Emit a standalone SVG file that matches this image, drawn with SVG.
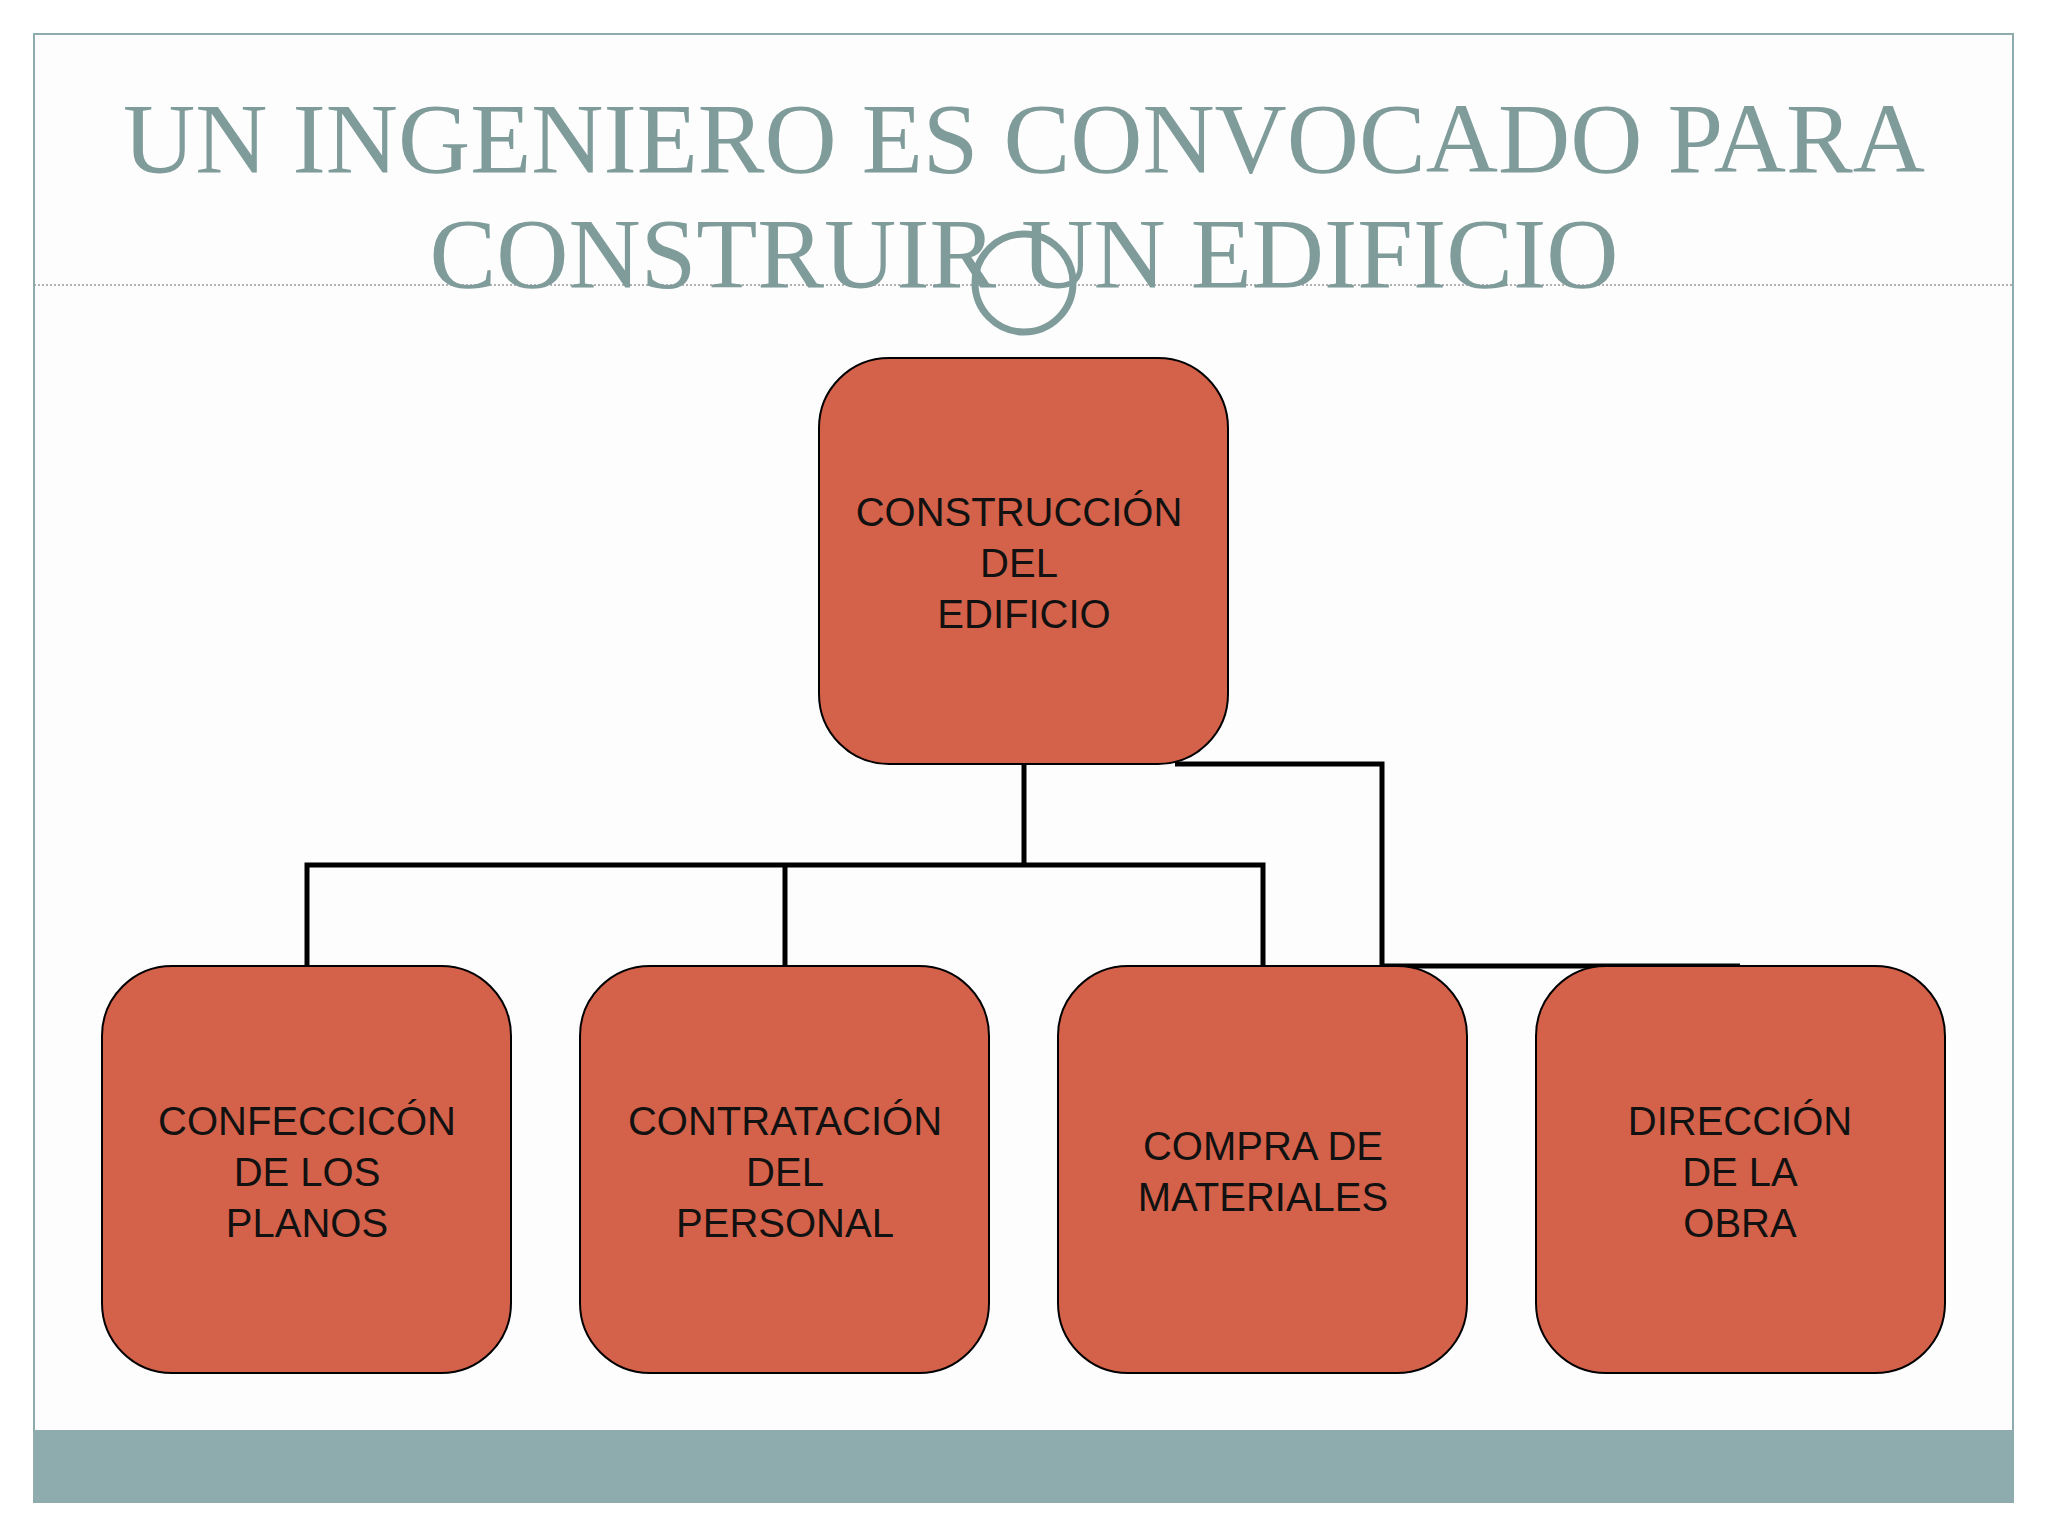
<svg xmlns="http://www.w3.org/2000/svg" width="2048" height="1536" viewBox="0 0 2048 1536">
<style>
.box{fill:#d4624a;stroke:#000;stroke-width:2}
.t{font-family:"Liberation Sans",Arial,sans-serif;font-size:40px;fill:#111;text-anchor:middle}
.title{font-family:"Liberation Serif","Times New Roman",serif;font-size:100px;fill:#7f9c9b;text-anchor:middle}
.c{fill:none;stroke:#000;stroke-width:5}
</style>
<rect width="2048" height="1536" fill="#fff"/>
<rect x="34" y="34" width="1979" height="1468" fill="#fdfdfd" stroke="#8eacad" stroke-width="2"/>
<rect x="34" y="1430" width="1979" height="72" fill="#8eacad"/>
<line x1="34" y1="285" x2="2013" y2="285" stroke="#999" stroke-width="1.5" stroke-dasharray="2,2"/>
<text class="title" x="1024" y="172">UN INGENIERO ES CONVOCADO PARA</text>
<text class="title" x="1024" y="287">CONSTRUIR UN EDIFICIO</text>
<circle cx="1024" cy="283" r="49" fill="none" stroke="#7f9c9b" stroke-width="7"/>
<g id="connectors">
<polyline class="c" points="1024,764 1024,865"/>
<polyline class="c" points="307,966 307,865 1263,865 1263,966"/>
<polyline class="c" points="785,865 785,966"/>
<polyline class="c" points="1175,764 1382,764 1382,966 1740,966"/>
</g>
<g id="n0"><rect class="box" x="819" y="358" width="409" height="406" rx="70"/>
<text class="t"><tspan x="1019" y="526">CONSTRUCCIÓN</tspan><tspan x="1019" y="577">DEL</tspan><tspan x="1024" y="628">EDIFICIO</tspan></text></g>
<g id="n1"><rect class="box" x="102" y="966" width="409" height="407" rx="70"/>
<text class="t"><tspan x="307" y="1135">CONFECCICÓN</tspan><tspan x="307" y="1186">DE LOS</tspan><tspan x="307" y="1237">PLANOS</tspan></text></g>
<g id="n2"><rect class="box" x="580" y="966" width="409" height="407" rx="70"/>
<text class="t"><tspan x="785" y="1135">CONTRATACIÓN</tspan><tspan x="785" y="1186">DEL</tspan><tspan x="785" y="1237">PERSONAL</tspan></text></g>
<g id="n3"><rect class="box" x="1058" y="966" width="409" height="407" rx="70"/>
<text class="t"><tspan x="1263" y="1160">COMPRA DE</tspan><tspan x="1263" y="1211">MATERIALES</tspan></text></g>
<g id="n4"><rect class="box" x="1536" y="966" width="409" height="407" rx="70"/>
<text class="t"><tspan x="1740" y="1135">DIRECCIÓN</tspan><tspan x="1740" y="1186">DE LA</tspan><tspan x="1740" y="1237">OBRA</tspan></text></g>
</svg>
